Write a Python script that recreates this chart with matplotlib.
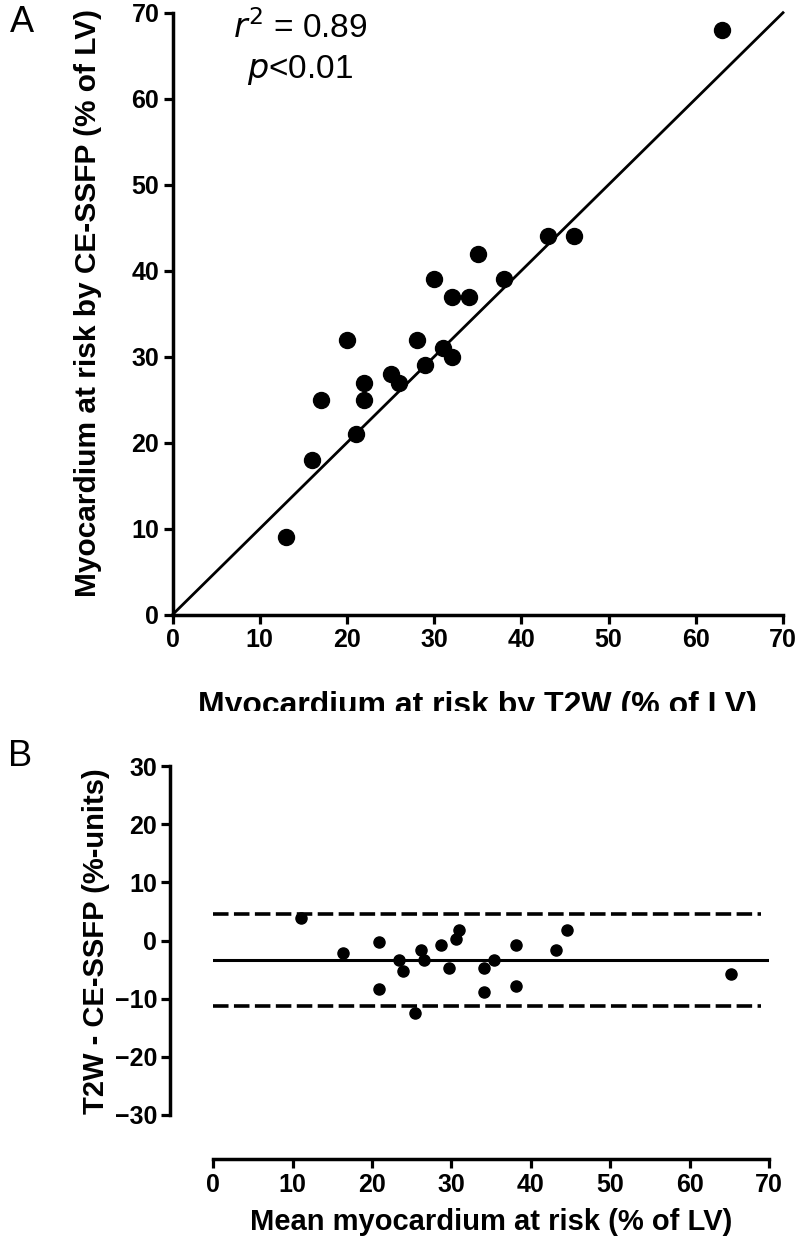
import matplotlib
matplotlib.use('Agg')
import matplotlib.pyplot as plt
from matplotlib.transforms import Bbox, TransformedBbox

plt.rcParams['font.family'] = ['Liberation Sans', 'DejaVu Sans']

# Panel A: myocardium at risk, T2W vs CE-SSFP (% of LV)
t2w = [13, 16, 17, 20, 21, 22, 22, 25, 26, 28, 29, 31, 32, 30, 32, 34, 35, 38, 43, 46, 63]
ce_ssfp = [9, 18, 25, 32, 21, 27, 25, 28, 27, 32, 29, 31, 30, 39, 37, 37, 42, 39, 44, 44, 68]
line_x = [0, 70]
line_y = [0, 70]

# Panel B: Bland-Altman
ba_mean = [11.0, 16.4, 20.9, 20.9, 23.4, 23.9, 26.2, 26.5, 25.4, 28.7, 29.7,
           30.9, 30.6, 34.1, 34.1, 35.4, 38.2, 38.2, 43.2, 44.5, 65.2]
ba_diff = [3.8, -2.2, -0.2, -8.3, -3.3, -5.3, -1.7, -3.4, -12.5, -0.8, -4.8,
           1.8, 0.2, -4.8, -8.9, -3.3, -0.8, -7.9, -1.7, 1.8, -5.8]
bias = -3.3
upper_loa = 4.6
lower_loa = -11.2

ticks_a = [0, 10, 20, 30, 40, 50, 60, 70]
ticks_b_y = [-30, -20, -10, 0, 10, 20, 30]

W, H = 799, 1249
fig = plt.figure(figsize=(W / 100, H / 100), dpi=100)


def fx(px):
    return px / W


def fy(py):
    return 1 - py / H


def style_axes(ax):
    for s in ['top', 'right']:
        ax.spines[s].set_visible(False)
    for s in ['left', 'bottom']:
        ax.spines[s].set_linewidth(2.5)
    ax.tick_params(direction='out', length=6.5, width=2.3, labelsize=18, pad=3)
    for lab in ax.get_xticklabels() + ax.get_yticklabels():
        lab.set_fontweight('bold')


# ---- panel A ----
ax1 = fig.add_axes([fx(172.5), fy(614.7), fx(783 - 172.5), (614.7 - 12.7) / H])
ax1.plot(line_x, line_y, color='black', lw=2.0, clip_on=False)
ax1.plot(t2w, ce_ssfp, 'o', color='black', ms=11.5, clip_on=False)
ax1.set_xlim(0, 70)
ax1.set_ylim(0, 70)
ax1.set_xticks(ticks_a)
ax1.set_yticks(ticks_a)
style_axes(ax1)

fig.text(fx(88), fy(303), 'Myocardium at risk by CE-SSFP (% of LV)', rotation=90,
         ha='center', va='center', fontsize=21.5, fontweight='bold')
xl = fig.text(fx(477), fy(714), 'Myocardium at risk by T2W (% of LV)',
              ha='center', va='baseline', fontsize=23, fontweight='bold')
xl.set_clip_box(TransformedBbox(Bbox([[0, fy(711)], [1, 1]]), fig.transFigure))
xl.set_clip_on(True)

ax1.text(0.209, 0.975, r'$r^2$ = 0.89', transform=ax1.transAxes, ha='center',
         va='center', fontsize=24)
ax1.text(0.209, 0.905, r'$p$<0.01', transform=ax1.transAxes, ha='center',
         va='center', fontsize=24)

fig.text(fx(10), fy(22), 'A', fontsize=26, ha='left', va='center')
fig.text(fx(8), fy(757), 'B', fontsize=26, ha='left', va='center')

# ---- panel B ----
ax2 = fig.add_axes([fx(213.3), fy(1115), fx(768.9 - 213.3), (1115 - 766) / H])
ax2.plot(ba_mean, ba_diff, 'o', color='black', ms=8)
ax2.plot([0, 70], [bias, bias], color='black', lw=2.2)
ax2.plot([0, 69], [upper_loa, upper_loa], color='black', lw=2.6, dashes=(4.3, 1.5))
ax2.plot([0, 69], [lower_loa, lower_loa], color='black', lw=2.6, dashes=(4.3, 1.5))
ax2.set_xlim(0, 70)
ax2.set_ylim(-30, 30)
ax2.set_xticks(ticks_a)
ax2.set_yticks(ticks_b_y)
ax2.spines['left'].set_position(('outward', 31))
ax2.spines['bottom'].set_position(('outward', 32))
ax2.spines['left'].set_bounds(-30, 30)
ax2.spines['bottom'].set_bounds(0, 70)
style_axes(ax2)

fig.text(fx(96), fy(941), 'T2W - CE-SSFP (%-units)', rotation=90,
         ha='center', va='center', fontsize=21, fontweight='bold')
fig.text(fx(491), fy(1222), 'Mean myocardium at risk (% of LV)',
         ha='center', va='center', fontsize=21, fontweight='bold')

fig.savefig('out.png', dpi=100)
